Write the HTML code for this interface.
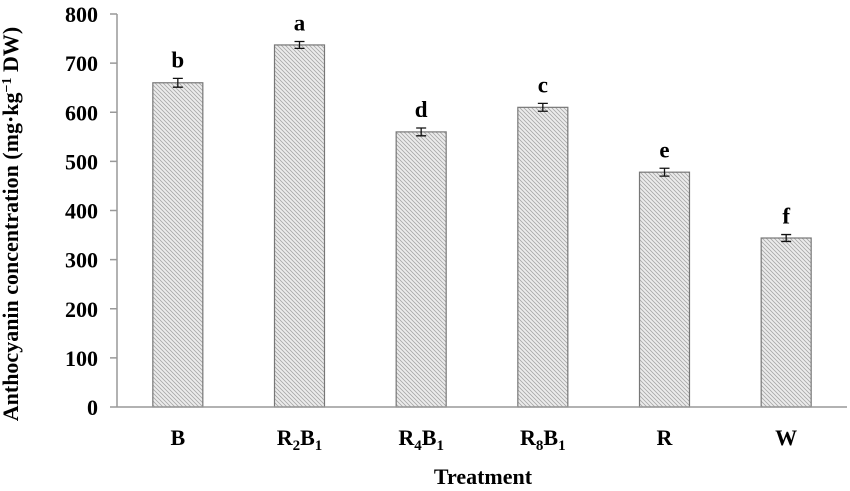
<!DOCTYPE html>
<html><head><meta charset="utf-8"><style>
body{margin:0;background:#fff}
svg{display:block;font-family:"Liberation Serif",serif;font-weight:bold}
</style></head><body>
<svg width="850" height="491">
<defs>
<pattern id="hatch" width="4" height="4" patternUnits="userSpaceOnUse">
<rect width="4" height="4" fill="#ececec"/>
<path d="M0,0 L4,4 M-1,3 L1,5 M3,-1 L5,1" stroke="#a8a8a8" stroke-width="0.8"/>
</pattern>
</defs>
<g id="plot"></g>
<text x="18" y="224" font-size="22" text-anchor="middle" transform="rotate(-90 18 224)">Anthocyanin concentration (mg·kg<tspan baseline-shift="super" font-size="14">−1</tspan> DW)</text>
<text x="483" y="484" font-size="22" text-anchor="middle">Treatment</text>
</svg>
<script>
const categories=["B","R2B1","R4B1","R8B1","R","W"];
const values=[660,737,560,610,478,344];
const errors=[9,7,8,8,8,7];
const letters=["b","a","d","c","e","f"];
const yTicks=[0,100,200,300,400,500,600,700,800];
const NS="http://www.w3.org/2000/svg";
const g=document.getElementById('plot');
const x0=117,y0=407,yTop=14,xEnd=847;
const y=v=>y0-(v/800)*(y0-yTop);
const step=(xEnd-x0)/categories.length;
const cx=i=>x0+step*(i+0.5);
function mk(t,a){const e=document.createElementNS(NS,t);for(const k in a)e.setAttribute(k,a[k]);g.appendChild(e);return e;}
let ax=mk('line',{x1:x0,y1:yTop,x2:x0,y2:y0,stroke:'#999','stroke-width':1.5});


yTicks.forEach(t=>{
 let l=mk('line',{x1:x0-7,x2:x0,y1:y(t),y2:y(t),stroke:'#999','stroke-width':1.5});
 
 
 let tx=mk('text',{x:98,y:y(t)+8,'font-size':22,'text-anchor':'end'});
 tx.textContent=t;
 
 
});
categories.forEach((c,i)=>{
 const bw=50,X=cx(i);
 let r=mk('rect',{x:X-bw/2,y:y(values[i]),width:bw,height:y0-y(values[i]),fill:'url(#hatch)',stroke:'#777','stroke-width':1.2});
 
 
 const t1=y(values[i]+errors[i]),t2=y(values[i]-errors[i]);
 let eb=mk('path',{d:`M${X},${t1}V${t2}M${X-5},${t1}H${X+5}M${X-5},${t2}H${X+5}`,stroke:'#111','stroke-width':1.3,fill:'none'});
 
 
 let lt=mk('text',{x:X,y:t1-11,'font-size':23,'text-anchor':'middle'});
 lt.textContent=letters[i];
 
 
 let xl=mk('text',{x:X,y:445,'font-size':22,'text-anchor':'middle'});
 const m=c.match(/^([A-Z])(\d)([A-Z])(\d)$/);
 if(m){xl.innerHTML=`${m[1]}<tspan font-size="15" dy="5">${m[2]}</tspan><tspan dy="-5">${m[3]}</tspan><tspan font-size="15" dy="5">${m[4]}</tspan>`;}
 else xl.textContent=c;
 
 
});
let bx=mk('line',{x1:x0,y1:y0,x2:xEnd,y2:y0,stroke:'#999','stroke-width':1.5});


</script>
</body></html>
